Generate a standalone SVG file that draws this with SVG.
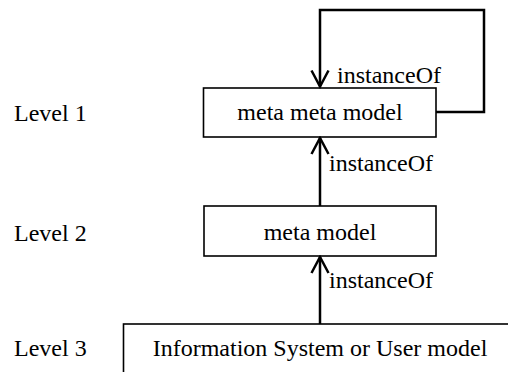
<svg xmlns="http://www.w3.org/2000/svg" width="508" height="372" viewBox="0 0 508 372">
  <style>
    .box { fill: #fff; stroke: #000; stroke-width: 1.6; }
    .conn { fill: none; stroke: #000; stroke-width: 2.5; }
  </style>
  <defs>
    <marker id="arrow" markerUnits="userSpaceOnUse" viewBox="-18 -10 20 20" refX="0" refY="0" markerWidth="20" markerHeight="20" orient="auto">
      <path d="M-16,-8.5 L0,0 L-16,8.5" fill="none" stroke="#000" stroke-width="2.5"/>
    </marker>
  </defs>

  <g font-family="'Liberation Serif', 'Times New Roman', Times, serif" font-size="24" fill="#000">
    <g id="levels">
      <text x="14" y="121">Level 1</text>
      <text x="14" y="241">Level 2</text>
      <text x="14" y="356">Level 3</text>
    </g>

    <g id="node-metametamodel">
      <rect class="box" x="203.5" y="88" width="232.5" height="49"/>
      <text text-anchor="middle" x="320" y="120">meta meta model</text>
    </g>

    <g id="node-metamodel">
      <rect class="box" x="204" y="206" width="232" height="50"/>
      <text text-anchor="middle" x="320" y="240">meta model</text>
    </g>

    <g id="node-usermodel">
      <rect class="box" x="123.5" y="324" width="400" height="60"/>
      <text text-anchor="middle" x="320" y="356">Information System or User model</text>
    </g>

    <g id="connectors">
      <path class="conn" d="M436,112 H484 V10 H320 V86.5" marker-end="url(#arrow)"/>
      <path class="conn" d="M320,206 V138" marker-end="url(#arrow)"/>
      <path class="conn" d="M320,324 V257" marker-end="url(#arrow)"/>
      <text x="337" y="83">instanceOf</text>
      <text x="329" y="171">instanceOf</text>
      <text x="329" y="288">instanceOf</text>
    </g>
  </g>
</svg>
